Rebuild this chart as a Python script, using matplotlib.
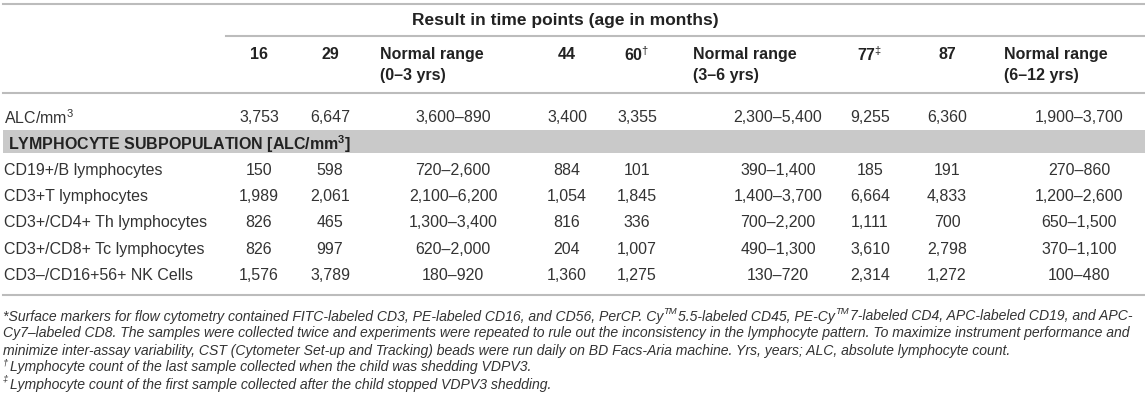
import matplotlib
matplotlib.use("Agg")
import matplotlib.pyplot as plt

plt.rcParams['font.family'] = ['Liberation Sans', 'DejaVu Sans']
plt.rcParams['mathtext.fontset'] = 'custom'
plt.rcParams['mathtext.rm'] = 'Liberation Sans'
plt.rcParams['mathtext.it'] = 'Liberation Sans:italic'
plt.rcParams['mathtext.bf'] = 'Liberation Sans:bold'

# table content
title = 'Result in time points (age in months)'
ages = ['16', '29', '44', '60', '77', '87']
age_marks = ['', '', '', r'$^{\dagger}$', r'$^{\ddagger}$', '']
range_groups = ['(0–3 yrs)', '(3–6 yrs)', '(6–12 yrs)']

alc_label = r'ALC/mm$^3$'
alc_values = ['3,753', '6,647', '3,400', '3,355', '9,255', '6,360']
alc_ranges = ['3,600–890', '2,300–5,400', '1,900–3,700']

band_label = r'LYMPHOCYTE SUBPOPULATION [ALC/mm$^{\mathbf{3}}$]'

sub_labels = ['CD19+/B lymphocytes', 'CD3+T lymphocytes',
              'CD3+/CD4+ Th lymphocytes', 'CD3+/CD8+ Tc lymphocytes',
              'CD3–/CD16+56+ NK Cells']
sub_values = [['150', '598', '884', '101', '185', '191'],
              ['1,989', '2,061', '1,054', '1,845', '6,664', '4,833'],
              ['826', '465', '816', '336', '1,111', '700'],
              ['826', '997', '204', '1,007', '3,610', '2,798'],
              ['1,576', '3,789', '1,360', '1,275', '2,314', '1,272']]
sub_ranges = [['720–2,600', '390–1,400', '270–860'],
              ['2,100–6,200', '1,400–3,700', '1,200–2,600'],
              ['1,300–3,400', '700–2,200', '650–1,500'],
              ['620–2,000', '490–1,300', '370–1,100'],
              ['180–920', '130–720', '100–480']]

# footnotes as runs of (text, superscript?)
footnotes = [
    [('*Surface markers for flow cytometry contained FITC-labeled CD3, PE-labeled CD16, and CD56, PerCP. Cy', False),
     ('TM', True), ('5.5-labeled CD45, PE-Cy', False), ('TM', True),
     ('7-labeled CD4, APC-labeled CD19, and APC-', False)],
    [('Cy7–labeled CD8. The samples were collected twice and experiments were repeated to rule out the inconsistency in the lymphocyte pattern. To maximize instrument performance and', False)],
    [('minimize inter-assay variability, CST (Cytometer Set-up and Tracking) beads were run daily on BD Facs-Aria machine. Yrs, years; ALC, absolute lymphocyte count.', False)],
    [('†', True), ('Lymphocyte count of the last sample collected when the child was shedding VDPV3.', False)],
    [('‡', True), ('Lymphocyte count of the first sample collected after the child stopped VDPV3 shedding.', False)],
]

# layout (pixels)
W, H = 1145, 407
num_x = [259, 330, 567, 637, 870, 947]
range_head_x = [380, 693, 1004]
range_val_x = [453, 778, 1079]
line_c = '#bcbcbc'
txt_c = '#333333'
head_c = '#222222'
fs = 11.5
fn_fs = 10.05

fig = plt.figure(figsize=(W / 100, H / 100), dpi=100)
ax = fig.add_axes([0, 0, 1, 1])
ax.set_xlim(0, W)
ax.set_ylim(H, 0)
ax.axis('off')
renderer = fig.canvas.get_renderer()

# rules
ax.plot([3, W], [4, 4], color=line_c, lw=1.5)
ax.plot([226, W], [36, 36], color=line_c, lw=1.5)
ax.plot([3, W], [93, 93], color=line_c, lw=1.5)
ax.plot([3, W], [295, 295], color=line_c, lw=1.5)
ax.fill_between([3, W], 130, 153, color='#c9c9c9', lw=0)

ax.text(565, 21, title, ha='center', va='center', fontsize=12.5,
        fontweight='bold', color=head_c)

for x, a, m in zip(num_x, ages, age_marks):
    ax.text(x, 53, a + m, ha='center', va='center_baseline', fontsize=fs,
            fontweight='bold', color=head_c)
for x, g in zip(range_head_x, range_groups):
    ax.text(x, 53, 'Normal range', ha='left', va='center_baseline',
            fontsize=fs, fontweight='bold', color=head_c)
    ax.text(x, 74, g, ha='left', va='center_baseline', fontsize=fs,
            fontweight='bold', color=head_c)


def draw_row(y, label, vals, ranges):
    ax.text(4, y, label, ha='left', va='center_baseline', fontsize=fs,
            color=txt_c)
    for x, v in zip(num_x, vals):
        ax.text(x, y, v, ha='center', va='center_baseline', fontsize=fs,
                color=txt_c)
    for x, r in zip(range_val_x, ranges):
        ax.text(x, y, r, ha='center', va='center_baseline', fontsize=fs,
                color=txt_c)


draw_row(116, alc_label, alc_values, alc_ranges)
ax.text(8, 142, band_label, ha='left', va='center_baseline', fontsize=fs,
        fontweight='bold', color=head_c)

for i, (lab, vals, rng) in enumerate(zip(sub_labels, sub_values, sub_ranges)):
    draw_row(169 + i * 26.2, lab, vals, rng)

# footnotes, superscripts drawn as small raised pieces
for i, runs in enumerate(footnotes):
    x = 3
    y = 315 + i * 17
    for s, sup in runs:
        if sup:
            t = ax.text(x, y - 4.5, s, ha='left', va='center_baseline',
                        fontsize=fn_fs * 0.68, style='italic', color=txt_c)
        else:
            t = ax.text(x, y, s, ha='left', va='center_baseline',
                        fontsize=fn_fs, style='italic', color=txt_c)
        x += t.get_window_extent(renderer).width + (1.5 if sup else 0)

fig.savefig('out.png', dpi=100)
